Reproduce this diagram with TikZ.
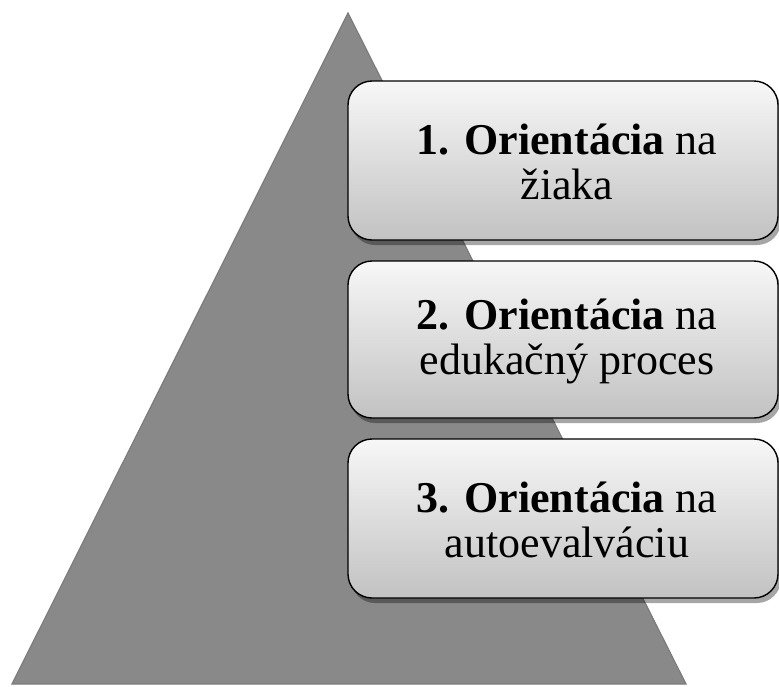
\documentclass[tikz,border=0pt]{standalone}
\usepackage{fontspec}
\setmainfont{Liberation Serif}
\usetikzlibrary{shadows}
\definecolor{tri}{HTML}{898989}
\definecolor{triedge}{HTML}{7C7C7C}
\definecolor{boxtop}{HTML}{F7F7F7}
\definecolor{boxbot}{HTML}{C2C2C2}
\tikzset{
  levelbox/.style={draw=black, line width=1.4pt, rounded corners=24pt,
    top color=boxtop, bottom color=boxbot,
    drop shadow={shadow xshift=3pt, shadow yshift=-5pt, opacity=0.35, fill=black}},
  leveltext/.style={align=center, font=\fontsize{44}{45}\selectfont, text=black}
}
\begin{document}
\begin{tikzpicture}[x=1pt,y=-1pt]
\useasboundingbox (0,0) rectangle (779,686);
% pyramid
\coordinate (apex) at (348,13);
\coordinate (bl) at (12,684);
\coordinate (br) at (686,684);
\fill[tri] (apex) -- (br) -- (bl) -- cycle;
\draw[triedge, line width=1.2pt, line join=miter] (apex) -- (br) -- (bl) -- cycle;
% boxes
\path[levelbox] (348,81) rectangle (778,240);
\path[levelbox] (348,261) rectangle (778,418);
\path[levelbox] (348,439) rectangle (778,598);
\node[leveltext] (t1) at (567,162) {\textbf{1. Orientácia} na\\žiaka};
\node[leveltext] (t2) at (567,341) {\textbf{2. Orientácia} na\\edukačný proces};
\node[leveltext] (t3) at (567,520) {\textbf{3. Orientácia} na\\autoevalváciu};
\end{tikzpicture}
\end{document}
